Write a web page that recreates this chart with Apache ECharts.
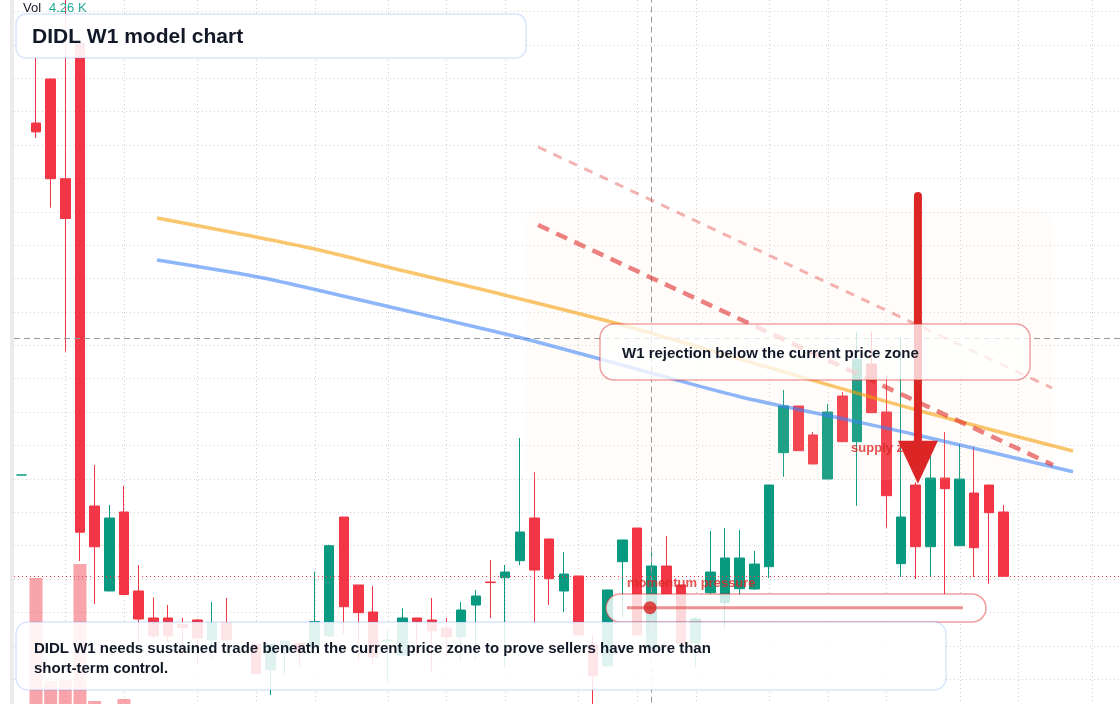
<!DOCTYPE html>
<html>
<head>
<meta charset="utf-8">
<title>DIDL W1 model chart</title>
<script src="https://cdn.jsdelivr.net/npm/echarts@6.0.0/dist/echarts.min.js"></script>
<style>
    html, body { margin: 0; padding: 0; background: #fff; }
    #chart { width: 1120px; height: 704px; }
</style>
</head>
<body>
<div id="chart"></div>
<script>
// weekly candles, [open, close, low, high]
var ohlc = [
    [3.558, 3.558, 3.558, 3.558], [8.829, 8.696, 8.604, 9.802], [9.488, 7.995, 7.561, 9.500], [7.995, 7.399, 5.406, 10.746],
    [10.027, 2.701, 2.270, 10.027], [3.094, 2.483, 1.626, 3.708], [1.821, 2.914, 1.821, 3.109], [3.004, 1.768, 1.768, 3.398],
    [1.821, 1.402, 1.057, 2.210], [1.417, 1.147, 1.117, 1.724], [1.417, 1.147, 1.057, 1.611], [1.319, 1.274, 0.833, 1.421],
    [1.387, 1.117, 0.728, 1.402], [1.087, 1.349, 0.818, 1.656], [1.349, 1.087, 1.072, 1.716], ['-', '-', '-', '-'],
    [1.023, 0.583, 0.578, 1.027], [0.642, 1.023, 0.264, 1.023], [0.937, 1.072, 0.563, 1.072], [1.038, 0.907, 0.698, 1.042],
    [0.987, 1.361, 0.982, 2.110], [1.147, 2.499, 1.132, 2.514], [2.929, 1.586, 1.177, 2.929], [1.911, 1.496, 0.773, 1.911],
    [1.506, 0.837, 0.713, 1.896], [1.072, 1.087, 0.463, 1.237], [0.863, 1.417, 0.848, 1.562], [1.417, 1.361, 0.863, 1.417],
    [1.387, 1.226, 0.612, 1.716], [1.267, 1.137, 0.837, 1.417], [1.137, 1.536, 0.762, 1.656], [1.611, 1.746, 0.788, 1.836],
    [1.956, 1.947, 1.417, 2.285], [2.020, 2.105, 0.687, 2.210], [2.275, 2.704, 2.210, 4.112], [2.914, 2.135, 1.342, 3.603],
    [2.600, 2.005, 1.611, 2.600], [1.821, 2.075, 1.506, 2.405], [2.046, 1.162, 1.147, 2.046], [1.012, 0.548, 0.099, 1.162],
    [0.698, 1.836, 0.698, 1.836], [2.260, 2.585, 1.436, 2.585], [2.764, 1.162, 1.147, 2.764], [0.937, 2.195, 0.907, 2.435],
    [2.195, 1.776, 1.746, 2.645], [1.911, 1.042, 1.012, 1.911], [1.042, 1.402, 0.668, 1.431], [1.795, 2.105, 1.776, 2.719],
    [1.646, 2.315, 1.252, 2.764], [1.855, 2.315, 1.731, 2.734], [1.851, 2.225, 1.836, 2.420], [2.185, 3.408, 2.016, 3.408],
    [3.892, 4.591, 3.532, 4.831], [4.591, 3.922, 3.917, 4.591], [4.157, 3.723, 3.723, 4.202], [3.498, 4.501, 3.498, 4.621],
    [4.741, 4.057, 4.052, 4.801], [4.057, 5.291, 3.098, 5.699], [5.220, 4.491, 4.486, 5.704], [4.501, 3.248, 2.769, 5.055],
    [2.230, 2.929, 2.031, 5.609], [3.408, 2.484, 2.001, 3.450], [2.484, 3.513, 2.031, 4.052], [3.513, 3.353, 1.776, 4.202],
    [2.499, 3.498, 2.495, 4.022], [3.288, 2.469, 2.031, 3.982], [3.408, 2.993, 1.930, 3.408], [3.004, 2.041, 2.041, 3.109]
];

// weekly volume, thousands
var volumes = [
    5.8, 134.6, 31.6, 32.6, 148.6, 11.6, 7.9, 13.6, 8.1, 6.4, 5.9, 3.8, 6.2, 5.1, 4.7, '-',
    5.5, 6.8, 4.1, 3.6, 7.4, 8.2, 7.7, 5.3, 4.9, 2.8, 3.9, 2.6, 3.4, 2.9, 4.4, 3.7,
    3.1, 5.2, 8.0, 7.6, 4.8, 4.2, 6.1, 7.3, 5.7, 4.5, 6.6, 5.4, 4.9, 5.0, 3.6, 4.3,
    5.1, 4.6, 3.9, 7.8, 8.3, 6.2, 4.4, 6.9, 5.8, 8.1, 6.3, 7.5, 6.7, 5.9, 5.2, 4.8,
    5.5, 4.9, 4.1, 4.26
];

// moving averages, [bar index, price]
var maOrange = [[9.26, 7.406], [19.69, 6.957], [25.83, 6.628], [31.29, 6.343], [40.50, 5.834], [50.39, 5.205], [61.10, 4.531], [71.74, 3.917]];
var maBlue = [[9.26, 6.777], [16.06, 6.527], [19.96, 6.339], [25.83, 6.039], [31.29, 5.759], [35.38, 5.539], [42.20, 5.130], [49.02, 4.730], [55.16, 4.441], [61.10, 4.157], [71.74, 3.607]];

// drawn trend lines and supply zone
var trendUpper = [[35.25, 8.470], [70.30, 4.861]];
var trendLower = [[35.25, 7.302], [70.37, 3.708]];
var supplyZone = [34.42, 7.495, 70.30, 3.485];   // x0, top, x1, bottom
var supplyLabel = [56.6, 3.962];
var arrow = [61.16, 7.735, 3.426];               // x, tail price, tip price
var crossIndex = 43;
var crossPrice = 5.609;

// month starts on the weekly axis
var monthTicks = [3, 7, 12, 16, 20, 25, 29, 33, 38, 42, 46, 51, 55, 59, 64, 68, 73];

var SLOTS = 76;   // candles plus empty space to the right
var categories = [];
(function () {
    var d = new Date(Date.UTC(2023, 1, 6));
    for (var i = 0; i < SLOTS; i++) {
        categories.push(d.toISOString().slice(0, 10));
        d.setUTCDate(d.getUTCDate() + 7);
    }
})();

var UP = '#089981';
var DOWN = '#f23645';
var RED = '#dc2626';
var INK = '#111827';
var GRID = '#d0d0d0';
var FONT = '"Liberation Sans", Arial, sans-serif';
var lastClose = ohlc[ohlc.length - 1][1];

var volData = volumes.map(function (v, i) {
    if (v === '-') return '-';
    var up = ohlc[i][1] >= ohlc[i][0];
    return { value: v, itemStyle: { color: up ? 'rgba(8,153,129,0.42)' : 'rgba(242,54,69,0.45)' } };
});

function hiddenAxis(extra) {
    var a = {
        axisLine: { show: false }, axisTick: { show: false },
        axisLabel: { show: false }, splitLine: { show: false }
    };
    for (var k in extra) a[k] = extra[k];
    return a;
}

// dotted vertical line over the full grid height
function renderMonthLine(params, api) {
    var x = Math.round(api.coord([api.value(0), 0])[0]) + 0.5;
    var cs = params.coordSys;
    return {
        type: 'line',
        shape: { x1: x, y1: cs.y, x2: x, y2: cs.y + cs.height },
        style: { stroke: GRID, lineWidth: 1, lineDash: [1, 3] }
    };
}

function renderZone(params, api) {
    var p0 = api.coord([api.value(0), api.value(1)]);
    var p1 = api.coord([api.value(2), api.value(3)]);
    return {
        type: 'rect',
        shape: { x: p0[0], y: p0[1], width: p1[0] - p0[0], height: p1[1] - p0[1], r: 10 },
        style: { fill: 'rgba(255,222,205,0.1)' }
    };
}

function renderLabel(params, api) {
    var p = api.coord([api.value(0), api.value(1)]);
    return {
        type: 'text', x: p[0], y: p[1],
        style: {
            text: 'supply zone', fill: 'rgba(220,38,38,0.8)', font: 'bold 13px ' + FONT,
            align: 'left', verticalAlign: 'middle', textAlign: 'left', textVerticalAlign: 'middle'
        }
    };
}

function renderArrow(params, api) {
    var x = api.value(0);
    var tail = api.coord([x, api.value(1)]);
    var tip = api.coord([x, api.value(2)]);
    var headLen = 43, headHalf = 20;
    return {
        type: 'group',
        children: [
            { type: 'line', shape: { x1: tail[0], y1: tail[1], x2: tip[0], y2: tip[1] - headLen + 4 },
              style: { stroke: RED, lineWidth: 8, lineCap: 'round' } },
            { type: 'polygon', shape: { points: [[tip[0] - headHalf, tip[1] - headLen], [tip[0] + headHalf, tip[1] - headLen], [tip[0], tip[1]]] },
              style: { fill: RED } }
        ]
    };
}

function txt(x, y, text, font, color, extra) {
    var s = { text: text, x: x, y: y, font: font, fill: color,
              align: 'left', verticalAlign: 'middle', textAlign: 'left', textVerticalAlign: 'middle' };
    for (var k in extra) s[k] = extra[k];
    return { type: 'text', z: 110, silent: true, style: s };
}

function box(x, y, w, h, r, stroke, fill) {
    return { type: 'rect', z: 100, silent: true, shape: { x: x, y: y, width: w, height: h, r: r },
             style: { fill: fill, stroke: stroke, lineWidth: 1.5 } };
}

var chart = echarts.init(document.getElementById('chart'));

chart.setOption({
    animation: false,
    backgroundColor: '#fff',
    grid: [
        { left: 14, top: 0, width: SLOTS * 14.66, height: 712.6, outerBoundsMode: 'none' },
        { left: 14, top: 462.6, width: SLOTS * 14.66, height: 250, outerBoundsMode: 'none' }
    ],
    xAxis: [
        hiddenAxis({ type: 'category', gridIndex: 0, data: categories, boundaryGap: true }),
        hiddenAxis({ type: 'category', gridIndex: 1, data: categories, boundaryGap: true }),
        hiddenAxis({ type: 'value', gridIndex: 0, min: -0.5, max: SLOTS - 0.5, show: false })
    ],
    yAxis: [
        {
            type: 'value', gridIndex: 0, min: 0, max: 10.671, interval: 0.5,
            axisLine: { show: false }, axisTick: { show: false }, axisLabel: { show: false },
            splitLine: { show: true, showMaxLine: false, showMinLine: false,
                         lineStyle: { color: GRID, type: [1, 3], width: 1 } }
        },
        hiddenAxis({ type: 'value', gridIndex: 1, min: 0, max: 250, show: false })
    ],
    series: [
        {
            type: 'custom', xAxisIndex: 2, yAxisIndex: 0, z: 1, silent: true,
            renderItem: renderMonthLine, encode: { x: 0 }, data: monthTicks.map(function (i) { return [i]; })
        },
        {
            type: 'bar', xAxisIndex: 1, yAxisIndex: 1, data: volData, barWidth: 13, z: 2, silent: true
        },
        {
            type: 'candlestick', xAxisIndex: 0, yAxisIndex: 0, data: ohlc, barWidth: 10, z: 3, silent: true,
            itemStyle: { color: UP, color0: DOWN, borderColor: UP, borderColor0: DOWN, borderWidth: 1 }
        },
        {
            type: 'custom', xAxisIndex: 2, yAxisIndex: 0, z: 4, silent: true,
            renderItem: renderZone, encode: { x: [0, 2], y: [1, 3] }, data: [supplyZone]
        },
        {
            type: 'line', xAxisIndex: 2, yAxisIndex: 0, data: maOrange, smooth: 0.3, showSymbol: false, z: 5, silent: true,
            lineStyle: { color: 'rgba(245,158,11,0.6)', width: 3.5 }
        },
        {
            type: 'line', xAxisIndex: 2, yAxisIndex: 0, data: maBlue, smooth: 0.3, showSymbol: false, z: 5, silent: true,
            lineStyle: { color: 'rgba(59,130,246,0.58)', width: 3.5 }
        },
        {
            type: 'line', xAxisIndex: 2, yAxisIndex: 0, data: trendUpper, showSymbol: false, z: 5, silent: true,
            lineStyle: { color: 'rgba(220,38,38,0.35)', width: 3, type: [9, 8] }
        },
        {
            type: 'line', xAxisIndex: 2, yAxisIndex: 0, data: trendLower, showSymbol: false, z: 5, silent: true,
            lineStyle: { color: 'rgba(220,38,38,0.58)', width: 4.5, type: [12, 8] }
        },
        {
            type: 'custom', xAxisIndex: 2, yAxisIndex: 0, z: 6, silent: true,
            renderItem: renderLabel, encode: { x: 0, y: 1 }, data: [supplyLabel]
        },
        {
            type: 'custom', xAxisIndex: 2, yAxisIndex: 0, z: 7, silent: true,
            renderItem: renderArrow, encode: { x: 0, y: [1, 2] }, data: [arrow]
        },
        {   // crosshair and last price
            type: 'line', xAxisIndex: 2, yAxisIndex: 0, data: [], z: 8, silent: true,
            markLine: {
                silent: true, symbol: ['none', 'none'], label: { show: false },
                data: [
                    { xAxis: crossIndex, lineStyle: { color: '#9a9a9a', type: [6, 4], width: 1 } },
                    { yAxis: crossPrice, lineStyle: { color: '#9a9a9a', type: [6, 4], width: 1 } },
                    { yAxis: lastClose, lineStyle: { color: DOWN, type: [1, 3], width: 1 } }
                ]
            }
        }
    ],
    graphic: [
        { type: 'rect', z: 90, silent: true, shape: { x: 10, y: 0, width: 4, height: 704 }, style: { fill: '#ebebeb' } },
        txt(23, 8, 'Vol', '13px ' + FONT, '#131722'),
        txt(49, 8, volumes[volumes.length - 1].toFixed(2) + ' K', '13px ' + FONT, '#22ab94'),

        box(16, 14, 510, 44, 10, 'rgba(59,130,246,0.2)', 'rgba(255,255,255,0.9)'),
        txt(32, 37, 'DIDL W1 model chart', 'bold 21px ' + FONT, INK),

        box(600, 324, 430, 56, 14, 'rgba(220,38,38,0.42)', 'rgba(255,255,255,0.76)'),
        txt(622, 354, 'W1 rejection below the current price zone', 'bold 15px ' + FONT, INK),

        box(606, 594, 380, 28, 14, 'rgba(220,38,38,0.45)', 'rgba(255,255,255,0.8)'),
        { type: 'line', z: 105, silent: true, shape: { x1: 627, y1: 607.7, x2: 963, y2: 607.7 },
          style: { stroke: 'rgba(220,38,38,0.5)', lineWidth: 3 } },
        { type: 'circle', z: 106, silent: true, shape: { cx: 650, cy: 607.7, r: 6.5 },
          style: { fill: 'rgba(220,38,38,0.82)' } },
        txt(627, 583.5, 'momentum pressure', 'bold 13px ' + FONT, 'rgba(220,38,38,0.8)'),

        box(16, 622, 930, 68, 12, 'rgba(59,130,246,0.2)', 'rgba(255,255,255,0.87)'),
        txt(34, 639, 'DIDL W1 needs sustained trade beneath the current price zone to prove sellers have more than short-term control.',
            'bold 15px ' + FONT, INK,
            { width: 720, overflow: 'break', lineHeight: 20, verticalAlign: 'top', textVerticalAlign: 'top' })
    ]
});
</script>
</body>
</html>
